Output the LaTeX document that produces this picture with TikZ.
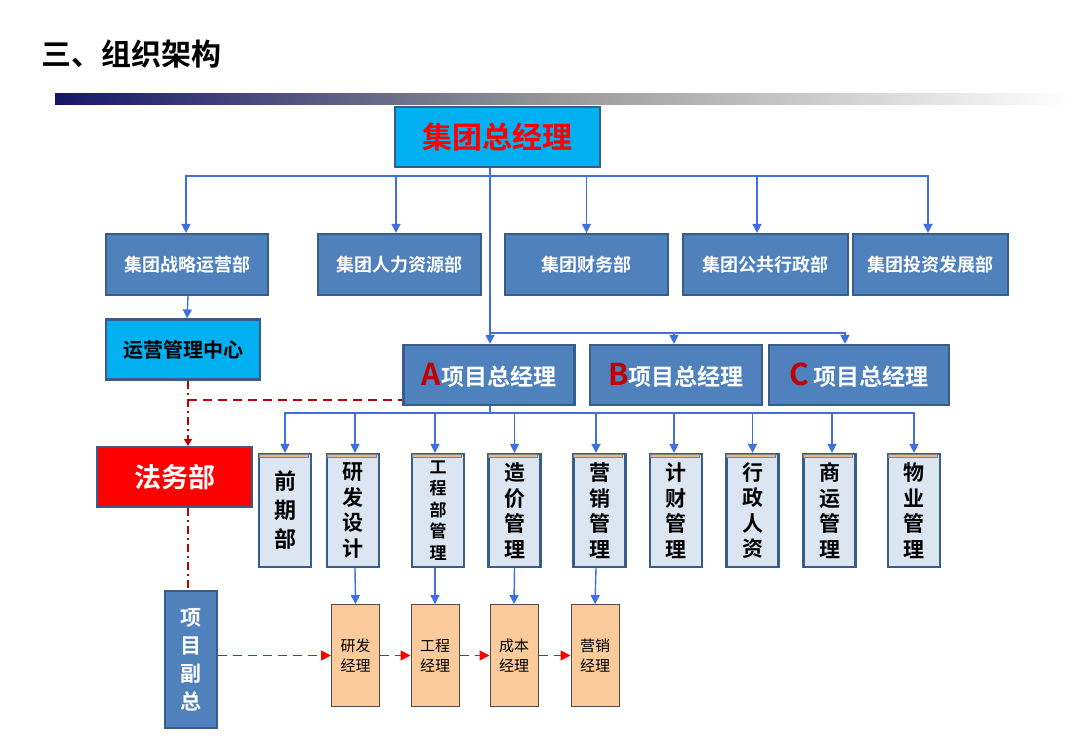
\documentclass[tikz,border=0pt]{standalone}
\usepackage{fontspec}
\setmainfont{Noto Sans CJK SC}[BoldFont={Noto Sans CJK SC Bold}]
\usetikzlibrary{arrows.meta}
\definecolor{boxblue}{HTML}{4F81BD}
\definecolor{edgeblue}{HTML}{385D8A}
\definecolor{cyanbox}{HTML}{00B0F0}
\definecolor{lineblue}{HTML}{3F6FE0}
\definecolor{paleblue}{HTML}{DCE6F2}
\definecolor{peach}{HTML}{FBCB9B}
\definecolor{tan}{HTML}{E9B98A}
\definecolor{darkred}{HTML}{C00000}
\definecolor{navy}{HTML}{15166A}
\newcommand{\fa}{\bfseries\fontsize{22}{29}\selectfont}
\newcommand{\fb}{\bfseries\fontsize{21}{25.5}\selectfont}
\newcommand{\fc}{\bfseries\fontsize{17}{21.5}\selectfont}
\tikzset{
  base/.style={draw=edgeblue, line width=2.2pt, inner sep=0pt, font=\bfseries},
  deptbox/.style={base, fill=boxblue, text=white, minimum height=61, font=\bfseries\fontsize{18}{20}\selectfont},
  pmbox/.style={base, fill=boxblue, text=white, minimum height=60, font=\bfseries\fontsize{23}{26}\selectfont},
  vbox/.style={base, fill=paleblue, text=black, minimum width=52, minimum height=113, align=center},
  obox/.style={draw=black!70, line width=1pt, fill=peach, minimum width=48, minimum height=102, align=center, inner sep=0pt, font=\fontsize{15}{20}\selectfont},
  arr/.style={draw=lineblue, line width=1.4pt, -{Triangle[width=9pt,length=9pt]}},
  bline/.style={draw=lineblue, line width=1.4pt},
  rdash/.style={draw=darkred, line width=1.6pt, dash pattern=on 8pt off 4pt on 2pt off 4pt},
  rdashh/.style={draw=darkred, line width=1.6pt, dash pattern=on 9pt off 6pt},
  rarr/.style={draw=red, line width=1.7pt, dash pattern=on 9pt off 6pt, -{Triangle[width=10pt,length=10pt,fill=red]}},
}
\begin{document}
\begin{tikzpicture}[x=1pt,y=-1pt]
\useasboundingbox (0,0) rectangle (1080,745);
% title
\node[anchor=west, font=\bfseries\fontsize{30}{32}\selectfont] (title) at (38,54) {三、组织架构};
\shade[left color=navy, right color=white, middle color=black!40] (55,93) rectangle (1070,104);
% top
\node[base, fill=cyanbox, text=red, minimum width=205, minimum height=60, font=\bfseries\fontsize{30}{32}\selectfont] (gm) at (497.5,137) {集团总经理};
% departments
\node[deptbox, minimum width=162] (d1) at (187,264.5) {集团战略运营部};
\node[deptbox, minimum width=163] (d2) at (399.5,264.5) {集团人力资源部};
\node[deptbox, minimum width=163] (d3) at (586.5,264.5) {集团财务部};
\node[deptbox, minimum width=165] (d4) at (765.5,264.5) {集团公共行政部};
\node[deptbox, minimum width=155] (d5) at (930.5,264.5) {集团投资发展部};
\coordinate (bus) at (490,176);
\coordinate (bus2) at (490,333);
\draw[bline] (gm.south -| bus) -- (bus2);
\draw[bline] ([xshift=-304]bus) -- ([xshift=438]bus);
\draw[arr] (bus) -| ([xshift=-1]d1.north);
\draw[arr] (bus) -| ([xshift=-3.5]d2.north);
\draw[arr] (bus) -| (d3.north);
\draw[arr] (bus) -| ([xshift=-8.5]d4.north);
\draw[arr] (bus) -| ([xshift=-2.5]d5.north);
% ops center
\node[base, fill=cyanbox, text=black, minimum width=154, minimum height=60, font=\bfseries\fontsize{20}{22}\selectfont] (ops) at (183,349.5) {运营管理中心};
\draw[arr] ([xshift=1]d1.south) -- ([xshift=4]ops.north);
% project GMs
\node[pmbox, minimum width=171] (pa) at (489,375) {\textcolor{darkred}{\fontsize{30}{30}\selectfont A}项目总经理};
\node[pmbox, minimum width=172] (pb) at (676,375) {\textcolor{darkred}{\fontsize{30}{30}\selectfont B}项目总经理};
\node[pmbox, minimum width=180] (pc) at (859,375) {\textcolor{darkred}{\fontsize{30}{30}\selectfont C}\ 项目总经理};
\draw[arr] (bus2) -- (bus2 |- pa.north);
\draw[arr] (bus2) -| ([xshift=-2]pb.north);
\draw[arr] (bus2) -| ([xshift=-14]pc.north);
% legal
\node[base, fill=red, text=white, minimum width=155, minimum height=60, font=\bfseries\fontsize{27}{30}\selectfont] (legal) at (174.5,477) {法务部};
\coordinate (rj) at (188,400);
\draw[rdash, -{Triangle[width=8pt,length=7pt]}] ([xshift=5]ops.south) -- ([xshift=13.5]legal.north);
\draw[rdashh] (rj) -- (rj -| pa.west);
% vice GM
\node[base, fill=boxblue, text=white, minimum width=52, minimum height=137, align=center, font=\bfseries\fontsize{21}{28}\selectfont] (vgm) at (191,659.5) {项\\目\\副\\总};
\draw[rdash] ([xshift=13.5]legal.south) -- ([xshift=-3]vgm.north);
% vertical departments
\coordinate (bus3) at (490,413);
\node[vbox, font=\fa] (v1) at (285,510.5) {前\\期\\部};
\node[vbox, font=\fb] (v2) at (353,510.5) {研\\发\\设\\计};
\node[vbox, font=\fc] (v3) at (438,510.5) {工\\程\\部\\管\\理};
\node[vbox, font=\fb] (v4) at (514.5,510.5) {造\\价\\管\\理};
\node[vbox, font=\fb] (v5) at (599.5,510.5) {营\\销\\管\\理};
\node[vbox, font=\fb] (v6) at (676,510.5) {计\\财\\管\\理};
\node[vbox, font=\fb] (v7) at (752.5,510.5) {行\\政\\人\\资};
\node[vbox, font=\fb] (v8) at (829.5,510.5) {商\\运\\管\\理};
\node[vbox, font=\fb] (v9) at (914,510.5) {物\\业\\管\\理};
\foreach \v in {v1,v2,v3,v4,v5,v6,v7,v8,v9}{
  \fill[tan, draw=black!50, line width=0.4pt] ([xshift=1,yshift=-1.5]\v.north west) rectangle ([xshift=-4,yshift=-4.5]\v.north east);
}
\draw[bline] (pa.south -| bus3) -- (bus3);
\draw[bline] (bus3 -| v1.north) -- (bus3 -| v9.north);
\draw[arr] (bus3) -| (v1.north);
\draw[arr] (bus3) -| ([xshift=2]v2.north);
\draw[arr] (bus3) -| ([xshift=-3]v3.north);
\draw[arr] (bus3) -| (v4.north);
\draw[arr] (bus3) -| ([xshift=-3.5]v5.north);
\draw[arr] (bus3) -| ([xshift=-2]v6.north);
\draw[arr] (bus3) -| (v7.north);
\draw[arr] (bus3) -| ([xshift=2.5]v8.north);
\draw[arr] (bus3) -| (v9.north);
% managers
\node[obox] (m1) at (355.5,655.5) {研发\\经理};
\node[obox] (m2) at (435,655.5) {工程\\经理};
\node[obox] (m3) at (514,655.5) {成本\\经理};
\node[obox] (m4) at (595,655.5) {营销\\经理};
\draw[arr] ([xshift=2]v2.south) -- (m1.north);
\draw[arr] ([xshift=-3]v3.south) -- (m2.north);
\draw[arr] (v4.south) -- (m3.north);
\draw[arr] ([xshift=-3.5]v5.south) -- (m4.north);
\draw[rarr] (vgm.east |- m1.west) -- (m1.west);
\draw[rarr] (m1.east) -- (m2.west);
\draw[rarr] (m2.east) -- (m3.west);
\draw[rarr] (m3.east) -- (m4.west);
\end{tikzpicture}
\end{document}
